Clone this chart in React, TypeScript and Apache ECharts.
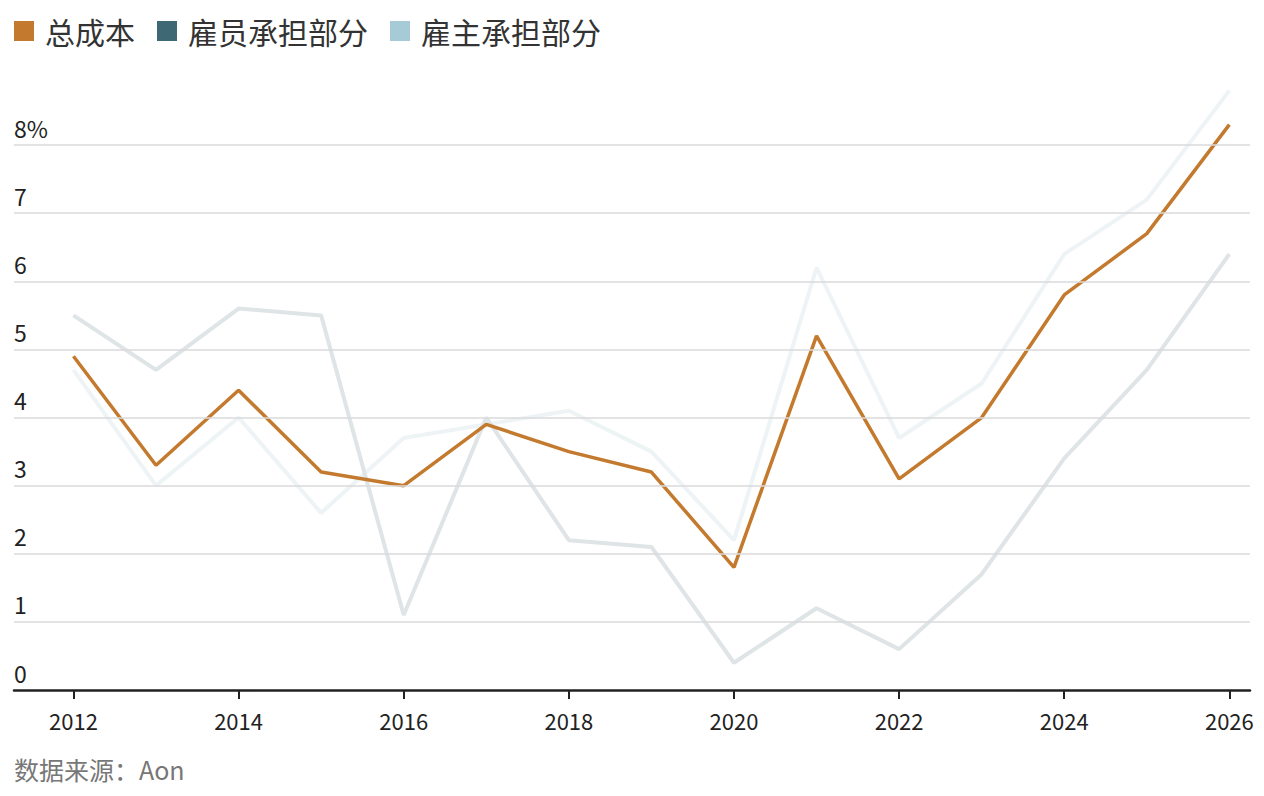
import React, { useEffect, useRef } from "react";
import * as echarts from "echarts";

const years = [2012, 2013, 2014, 2015, 2016, 2017, 2018, 2019, 2020, 2021, 2022, 2023, 2024, 2025, 2026];
const totalCost = [4.9, 3.3, 4.4, 3.2, 3.0, 3.9, 3.5, 3.2, 1.8, 5.2, 3.1, 4.0, 5.8, 6.7, 8.3];
const employeeShare = [5.5, 4.7, 5.6, 5.5, 1.1, 4.0, 2.2, 2.1, 0.4, 1.2, 0.6, 1.7, 3.4, 4.7, 6.4];
const employerShare = [4.7, 3.0, 4.0, 2.6, 3.7, 3.9, 4.1, 3.5, 2.2, 6.2, 3.7, 4.5, 6.4, 7.2, 8.8];
const seriesNames = ["总成本", "雇员承担部分", "雇主承担部分"];
const xTickYears = [2012, 2014, 2016, 2018, 2020, 2022, 2024, 2026];
const yGridValues = [1, 2, 3, 4, 5, 6, 7, 8];
const sourceText = "数据来源：Aon";

const FONT = '"Noto Sans CJK SC", "Noto Sans", sans-serif';

const pairs = (vals: number[]) => years.map((y, i) => [y, vals[i]]);

export default function App() {
  const ref = useRef<HTMLDivElement>(null);
  useEffect(() => {
    if (!ref.current) return;
    const chart = echarts.init(ref.current, undefined, { renderer: "svg" });
    chart.setOption({
      animation: false,
      textStyle: { fontFamily: FONT },
      legend: {
        data: seriesNames,
        left: 14,
        top: 16,
        padding: 0,
        icon: "rect",
        itemWidth: 20,
        itemHeight: 20,
        itemGap: 22,
        selectedMode: false,
        textStyle: { fontSize: 30, color: "#333", fontFamily: FONT, padding: [0, 0, 0, 6] },
      },
      grid: { left: 14, right: 14, top: 77, bottom: 106, containLabel: false },
      xAxis: {
        type: "value",
        min: 2011.28,
        max: 2026.25,
        splitLine: { show: false },
        axisLine: { show: true, lineStyle: { color: "#222", width: 2.5 } },
        axisTick: {
          show: true,
          customValues: xTickYears,
          length: 9,
          lineStyle: { color: "#222", width: 2 },
        },
        axisLabel: {
          customValues: xTickYears,
          formatter: (v: number) => String(v),
          fontSize: 22,
          color: "#222",
          margin: 19,
          fontFamily: FONT,
        },
      },
      yAxis: {
        type: "value",
        min: 0,
        max: 9,
        interval: 1,
        splitLine: { show: false },
        axisLine: { show: false },
        axisTick: { show: false },
        axisLabel: {
          inside: true,
          align: "left",
          verticalAlign: "bottom",
          margin: 0,
          padding: [0, 0, 6, 0],
          fontSize: 23,
          color: "#222",
          fontFamily: FONT,
          formatter: (v: number) => (v === 8 ? "8%" : v > 8 ? "" : String(v)),
        },
      },
      series: [
        {
          name: "grid",
          type: "line",
          data: [],
          z: 1,
          silent: true,
          markLine: {
            silent: true,
            symbol: "none",
            label: { show: false },
            lineStyle: { color: "#dadada", width: 1.5, type: "solid" },
            emphasis: { disabled: true },
            data: yGridValues.map((v) => ({ yAxis: v })),
          },
        },
        {
          name: seriesNames[2],
          type: "line",
          data: pairs(employerShare),
          showSymbol: false,
          symbol: "none",
          z: 2,
          itemStyle: { color: "#a6cad6" },
          lineStyle: { color: "#eef3f5", width: 4 },
          emphasis: { disabled: true },
        },
        {
          name: seriesNames[1],
          type: "line",
          data: pairs(employeeShare),
          showSymbol: false,
          symbol: "none",
          z: 3,
          itemStyle: { color: "#3e6874" },
          lineStyle: { color: "#dfe4e6", width: 4 },
          emphasis: { disabled: true },
        },
        {
          name: seriesNames[0],
          type: "line",
          data: pairs(totalCost),
          showSymbol: false,
          symbol: "none",
          z: 4,
          itemStyle: { color: "#c47a2e" },
          lineStyle: { color: "#c47a2e", width: 3.5 },
          emphasis: { disabled: true },
        },
      ],
      graphic: [
        {
          type: "text",
          left: 14,
          top: 756,
          style: { text: sourceText, fontSize: 25, fill: "#777", fontFamily: FONT },
        },
      ],
    });
    return () => chart.dispose();
  }, []);
  return (
    <div
      ref={ref}
      style={{ position: "fixed", left: 0, top: 0, width: 1264, height: 796, background: "#fff" }}
    />
  );
}
